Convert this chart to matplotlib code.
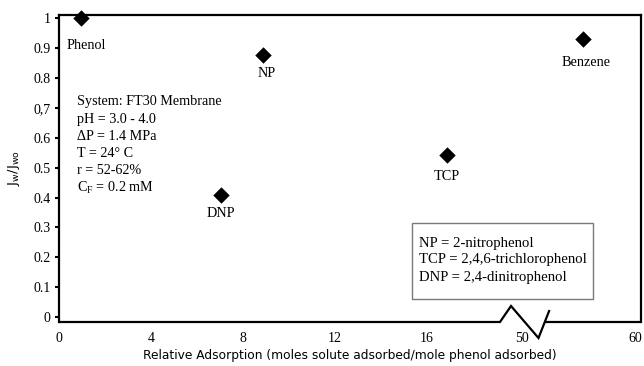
import numpy as np
import matplotlib
matplotlib.use("Agg")
import matplotlib.pyplot as plt
from matplotlib.patches import Rectangle

plt.rcParams["font.family"] = ["Liberation Serif", "DejaVu Serif"]
plt.rcParams["mathtext.fontset"] = "custom"
plt.rcParams["mathtext.rm"] = "Liberation Serif"
plt.rcParams["mathtext.it"] = "Liberation Serif:italic"

# ---- data -------------------------------------------------------------
solutes = ["Phenol", "NP", "DNP", "TCP", "Benzene"]
relative_adsorption = [0.95, 8.9, 7.05, 16.9, 55.4]
flux_ratio = [1.0, 0.876, 0.408, 0.544, 0.929]

x_tick_values = [0, 4, 8, 12, 16, 50, 60]
x_tick_labels = ["0", "4", "8", "12", "16", "50", "60"]
y_tick_values = [0, 0.1, 0.2, 0.3, 0.4, 0.5, 0.6, 0.7, 0.8, 0.9, 1.0]
y_tick_labels = ["0", "0.1", "0.2", "0.3", "0.4", "0.5", "0.6", "0,7", "0.8", "0.9", "1"]

conditions = [
    "System: FT30 Membrane",
    "pH = 3.0 - 4.0",
    "\u0394P = 1.4 MPa",
    "T = 24\u00b0 C",
    "r = 52-62%",
    r"C$_\mathrm{F}$ = 0.2 mM",
]
abbreviations = [
    "NP = 2-nitrophenol",
    "TCP = 2,4,6-trichlorophenol",
    "DNP = 2,4-dinitrophenol",
]

# label offsets (pixels) relative to each marker
label_offsets = [(5, -27), (3, -18), (0, -18), (0, -22), (3, -23)]

# ---- broken x scale: 0-19 linear, compressed gap, 50-60 linear --------
LO_END, HI_START = 19.0, 50.0
A0, A1 = 57.7, 23.0          # low segment
B0, B1 = 521.7, 11.33        # high segment
GAP0 = A0 + A1 * LO_END
GAP1 = (B0 - GAP0) / (HI_START - LO_END)


def fwd(x):
    x = np.asarray(x, dtype=float)
    return np.where(x <= LO_END, A0 + A1 * x,
                    np.where(x >= HI_START, B0 + B1 * (x - HI_START),
                             GAP0 + GAP1 * (x - LO_END)))


def inv(p):
    p = np.asarray(p, dtype=float)
    return np.where(p <= GAP0, (p - A0) / A1,
                    np.where(p >= B0, HI_START + (p - B0) / B1,
                             LO_END + (p - GAP0) / GAP1))


W, H = 644, 366
fig = plt.figure(figsize=(W / 100, H / 100), dpi=100)
ax = fig.add_axes([59 / W, 44 / H, 582 / W, 307 / H])
ax.set_xscale("function", functions=(fwd, inv))
ax.set_xlim(0.057, 60.53)
ax.set_ylim(-0.0167, 1.011)

ax.scatter(relative_adsorption, flux_ratio, marker="D", s=70, color="black",
           zorder=5, clip_on=False, linewidths=0)
for name, x, y, (dx, dy) in zip(solutes, relative_adsorption, flux_ratio, label_offsets):
    ax.annotate(name, (x, y), xytext=(dx, dy), textcoords="offset pixels",
                ha="center", va="center", fontsize=10.3)

# frame
for side in ("left", "top", "right"):
    ax.spines[side].set_linewidth(1.6)
ax.spines["bottom"].set_visible(False)


def ax_pt(px, py):
    return ((px - 59) / 582, (322 - py) / 307)


bottom_left = [ax_pt(59, 322), ax_pt(500, 322), ax_pt(511, 306),
               ax_pt(538.5, 338), ax_pt(549.5, 310)]
bottom_right = [ax_pt(543.5, 322), ax_pt(641, 322)]
for seg in (bottom_left, bottom_right):
    xs, ys = zip(*seg)
    ax.plot(xs, ys, color="black", lw=1.6, transform=ax.transAxes,
            clip_on=False, solid_joinstyle="miter", solid_capstyle="butt")

# ticks
ax.set_xticks(x_tick_values)
ax.set_xticklabels(x_tick_labels)
ax.set_xticks([4, 8, 12, 16], minor=True)
ax.tick_params(axis="x", which="major", length=0, pad=7, labelsize=10)
ax.tick_params(axis="x", which="minor", direction="in", length=3,
               width=0.8, color="#9a9a9a")
ax.set_yticks(y_tick_values)
ax.set_yticklabels(y_tick_labels)
ax.yaxis.set_minor_locator(matplotlib.ticker.NullLocator())
ax.tick_params(axis="y", direction="out", length=3, width=1.5, pad=3,
               labelsize=10)

ax.set_xlabel("Relative Adsorption (moles solute adsorbed/mole phenol adsorbed)",
              family="DejaVu Sans", fontsize=8.8, labelpad=3)
ax.set_ylabel(r"$\mathrm{J_w/J_{wo}}$", family="DejaVu Sans",
              math_fontfamily="dejavusans", fontsize=9.5, labelpad=8)

# operating conditions
for i, line in enumerate(conditions):
    y_px = 101.7 + i * 17.3
    ax.text(*ax_pt(77, y_px), line, transform=ax.transAxes, ha="left",
            va="center", fontsize=10.2)

# abbreviation box
x0, y0 = ax_pt(412, 299)
x1, y1 = ax_pt(593, 223)
ax.add_patch(Rectangle((x0, y0), x1 - x0, y1 - y0, transform=ax.transAxes,
                       fill=False, edgecolor="#7a7a7a", lw=1.0, clip_on=False))
for i, line in enumerate(abbreviations):
    ax.text(*ax_pt(419, 243 + i * 17), line, transform=ax.transAxes,
            ha="left", va="center", fontsize=10.6)

fig.savefig("out.png", dpi=100)
